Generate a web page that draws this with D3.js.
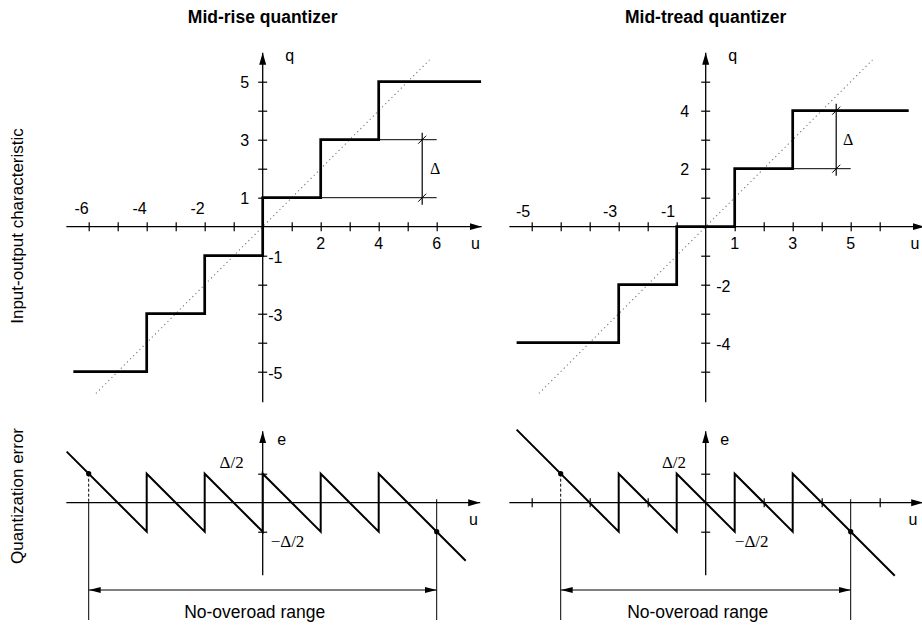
<!DOCTYPE html>
<html>
<head>
<meta charset="utf-8">
<script src="https://cdn.jsdelivr.net/npm/d3@7"></script>
<style>
  body { margin: 0; background: #fff; }
  text { font-family: "Liberation Sans", Arial, sans-serif; fill: #000; }
  .serif { font-family: "Liberation Serif", "Times New Roman", serif; }
</style>
</head>
<body>
<div id="chart"></div>
<script>
// ---- data ----
const uTicks = [-6, -5, -4, -3, -2, -1, 1, 2, 3, 4, 5, 6]
const qTicks = [-5, -4, -3, -2, -1, 1, 2, 3, 4, 5]
const eTicks = [-1, 1]
const errUTicksTread = [-6, -4, -2, 2, 4, 6]

// mid-rise: decision levels (breaks) and output levels
const riseBreaks = [-4, -2, 0, 2, 4]
const riseLevels = [-5, -3, -1, 1, 3, 5]
const riseStairSpan = [-6.53, 7.53]
const riseErrSpan = [-6.76, 7.0]
const riseRange = [-6, 6]
const riseXNegAt = [-6, -4, -2], riseXNegText = ["-6", "-4", "-2"]
const riseXPos = [2, 4, 6]
const riseQPos = [5, 3, 1]
const riseQNeg = [-1, -3, -5]

// mid-tread
const treadBreaks = [-3, -1, 1, 3]
const treadLevels = [-4, -2, 0, 2, 4]
const treadStairSpan = [-6.52, 7.0]
const treadErrSpan = [-6.52, 6.52]
const treadRange = [-5, 5]
const treadXNegAt = [-6, -3, -1], treadXNegText = ["-5", "-3", "-1"]
const treadXPos = [1, 3, 5]
const treadQPos = [4, 2]
const treadQNeg = [-2, -4]

// q = u reference line
const diagSpan = [-5.75, 5.75]

const width = 922, height = 625

const svg = d3.select("#chart").append("svg")
  .attr("width", width)
  .attr("height", height)

// arrow markers
const defs = svg.append("defs")
defs.append("marker")
  .attr("id", "arr")
  .attr("viewBox", "0 -4 12 8")
  .attr("refX", 12).attr("refY", 0)
  .attr("markerWidth", 12).attr("markerHeight", 8)
  .attr("markerUnits", "userSpaceOnUse")
  .attr("orient", "auto")
  .append("path").attr("d", "M0,-3.5L12,0L0,3.5Z").attr("fill", "#000")
defs.append("marker")
  .attr("id", "arrThin")
  .attr("viewBox", "0 -4 12 8")
  .attr("refX", 12).attr("refY", 0)
  .attr("markerWidth", 12).attr("markerHeight", 8)
  .attr("markerUnits", "userSpaceOnUse")
  .attr("orient", "auto-start-reverse")
  .append("path").attr("d", "M0,-3L12,0L0,3Z").attr("fill", "#000")

// scales
const xRise = d3.scaleLinear().domain([-6, 6]).range([88.7, 436.7])
const xTread = d3.scaleLinear().domain([-6, 6]).range([531.7, 879.7])
const yTop = d3.scaleLinear().domain([-5, 5]).range([371.7, 81.7])
const yBot = d3.scaleLinear().domain([-1, 1]).range([531.7, 473.7])

function stairPoints(breaks, levels, span) {
  const pts = [[span[0], levels[0]]]
  breaks.forEach((b, i) => pts.push([b, levels[i + 1]]))
  pts.push([span[1], levels[levels.length - 1]])
  return pts
}

function errPoints(breaks, levels, span) {
  const edges = [span[0], ...breaks, span[1]]
  const pts = []
  levels.forEach((L, i) => {
    pts.push([edges[i], L - edges[i]])
    pts.push([edges[i + 1], L - edges[i + 1]])
  })
  return pts
}

function line(g, x1, y1, x2, y2, w) {
  return g.append("line")
    .attr("x1", x1).attr("y1", y1).attr("x2", x2).attr("y2", y2)
    .attr("stroke", "#000").attr("stroke-width", w || 1)
}

function label(g, x, y, t, anchor, size, cls) {
  return g.append("text")
    .attr("x", x).attr("y", y)
    .attr("text-anchor", anchor || "middle")
    .attr("font-size", size || 16)
    .attr("class", cls || null)
    .text(t)
}

function drawPanel(cfg) {
  const x = cfg.x
  const g = svg.append("g")
  const x0 = x(0), y0 = yTop(0), e0 = yBot(0)

  // ---------- top: input-output characteristic ----------
  line(g, x(-6.77), y0, x(7.55), y0, 1.3).attr("marker-end", "url(#arr)")
  line(g, x0, yTop(-6.05), x0, yTop(6.0), 1.3).attr("marker-end", "url(#arr)")

  g.append("g")
    .attr("transform", `translate(0,${y0 - 4.5})`)
    .call(d3.axisBottom(x).tickValues(uTicks).tickSize(9).tickFormat(""))
    .call(a => a.select(".domain").remove())
    .call(a => a.selectAll("line").attr("stroke-width", 1.2))
  g.append("g")
    .attr("transform", `translate(${x0 - 4.5},0)`)
    .call(d3.axisRight(yTop).tickValues(qTicks).tickSize(9).tickFormat(""))
    .call(a => a.select(".domain").remove())
    .call(a => a.selectAll("line").attr("stroke-width", 1.2))

  // dotted q = u
  line(g, x(diagSpan[0]), yTop(diagSpan[0]), x(diagSpan[1]), yTop(diagSpan[1]), 1.1)
    .attr("stroke", "#777").attr("stroke-dasharray", "1.2,3.2")

  // staircase
  g.append("path")
    .datum(stairPoints(cfg.breaks, cfg.levels, cfg.stairSpan))
    .attr("fill", "none").attr("stroke", "#000").attr("stroke-width", 2.7)
    .attr("d", d3.line().x(d => x(d[0])).y(d => yTop(d[1])).curve(d3.curveStepAfter))

  // delta annotation
  const dA = cfg.delta
  line(g, x(dA.loFrom), yTop(dA.lo), x(dA.to), yTop(dA.lo), 1)
  if (dA.hiFrom != null) line(g, x(dA.hiFrom), yTop(dA.hi), x(dA.to), yTop(dA.hi), 1)
  line(g, x(dA.u), yTop(dA.hi) - 7, x(dA.u), yTop(dA.lo) + 7, 1.2)
  ;[dA.lo, dA.hi].forEach(v => {
    line(g, x(dA.u) - 4, yTop(v) + 4, x(dA.u) + 4, yTop(v) - 4, 1)
  })
  label(g, x(dA.u) + cfg.deltaDx, yTop((dA.lo + dA.hi) / 2) + cfg.deltaDy, "Δ", "middle", 16, "serif")

  // tick labels
  cfg.xNegAt.forEach((v, i) => label(g, x(v) - cfg.xNegPad, y0 - cfg.xNegUp, cfg.xNegText[i], "end"))
  cfg.xPos.forEach(v => label(g, x(v), y0 + 22, String(v)))
  label(g, cfg.uLabelX, y0 + 22, "u")
  cfg.qPos.forEach(v => label(g, x0 - cfg.qPosPad, yTop(v) + 6, String(v), "end"))
  cfg.qNeg.forEach(v => label(g, x0 + cfg.qNegPad, yTop(v) + 7.5, String(v), "start"))
  label(g, x0 + 27, 61, "q")

  // ---------- bottom: quantization error ----------
  line(g, x(-6.77), e0, x(7.5), e0, 1.3).attr("marker-end", "url(#arr)")
  line(g, x0, yBot(-2.5), x0, yBot(2.46), 1.3).attr("marker-end", "url(#arr)")
  g.append("g")
    .attr("transform", `translate(${x0 - 4.5},0)`)
    .call(d3.axisRight(yBot).tickValues(eTicks).tickSize(9).tickFormat(""))
    .call(a => a.select(".domain").remove())
    .call(a => a.selectAll("line").attr("stroke-width", 1.2))
  if (cfg.errTicks.length) {
    g.append("g")
      .attr("transform", `translate(0,${e0 - 4.5})`)
      .call(d3.axisBottom(x).tickValues(cfg.errTicks).tickSize(9).tickFormat(""))
      .call(a => a.select(".domain").remove())
      .call(a => a.selectAll("line").attr("stroke-width", 1.2))
  }

  g.append("path")
    .datum(errPoints(cfg.breaks, cfg.levels, cfg.errSpan))
    .attr("fill", "none").attr("stroke", "#000").attr("stroke-width", 2)
    .attr("d", d3.line().x(d => x(d[0])).y(d => yBot(d[1])))

  // no-overload range
  const [lo, hi] = cfg.range
  line(g, x(lo), yBot(1), x(lo), e0, 1).attr("stroke-dasharray", "3,2")
  line(g, x(lo), e0, x(lo), 620, 1)
  line(g, x(hi), e0 - 3.5, x(hi), 620, 1)
  g.selectAll("circle.end")
    .data([[lo, 1], [hi, -1]])
    .join("circle")
    .attr("cx", d => x(d[0])).attr("cy", d => yBot(d[1]))
    .attr("r", 2.6).attr("fill", "#000")
  line(g, x(lo), 590, x(hi), 590, 1)
    .attr("marker-start", "url(#arrThin)").attr("marker-end", "url(#arrThin)")
  label(g, (x(lo) + x(hi)) / 2 - 8, 618, "No-overoad range", "middle", 17.5)

  label(g, x0 + 19, 445, "e")
  label(g, cfg.uLabelX - 2, 525, "u")
  label(g, cfg.halfX, 468, "Δ/2", "middle", 17, "serif")
  label(g, cfg.negHalfX, 547, "−Δ/2", "middle", 17, "serif")

  // title
  label(g, x0, 23, cfg.title, "middle", 17.5).attr("font-weight", "bold")
}

drawPanel({
  title: "Mid-rise quantizer",
  x: xRise,
  breaks: riseBreaks, levels: riseLevels,
  stairSpan: riseStairSpan, errSpan: riseErrSpan, range: riseRange,
  xNegAt: riseXNegAt, xNegText: riseXNegText, xNegPad: 0, xNegUp: 13,
  xPos: riseXPos, qPos: riseQPos, qNeg: riseQNeg, qPosPad: 13.5, qNegPad: 5.5,
  uLabelX: 475.5,
  delta: { u: 5.5, lo: 1, hi: 3, loFrom: 2, hiFrom: 4, to: 6 },
  deltaDx: 13, deltaDy: 5.5,
  errTicks: [],
  halfX: 231.7, negHalfX: 287.5
})

drawPanel({
  title: "Mid-tread quantizer",
  x: xTread,
  breaks: treadBreaks, levels: treadLevels,
  stairSpan: treadStairSpan, errSpan: treadErrSpan, range: treadRange,
  xNegAt: treadXNegAt, xNegText: treadXNegText, xNegPad: 1.5, xNegUp: 10,
  xPos: treadXPos, qPos: treadQPos, qNeg: treadQNeg, qPosPad: 16.5, qNegPad: 10.5,
  uLabelX: 915,
  delta: { u: 4.5, lo: 2, hi: 4, loFrom: 3, hiFrom: null, to: 5 },
  deltaDx: 12, deltaDy: 5.5,
  errTicks: errUTicksTread,
  halfX: 674, negHalfX: 751.7
})

// row labels
svg.append("text")
  .attr("transform", "translate(23,226) rotate(-90)")
  .attr("text-anchor", "middle").attr("font-size", 17)
  .text("Input-output characteristic")
svg.append("text")
  .attr("transform", "translate(23,496) rotate(-90)")
  .attr("text-anchor", "middle").attr("font-size", 17)
  .text("Quantization error")
</script>
</body>
</html>
